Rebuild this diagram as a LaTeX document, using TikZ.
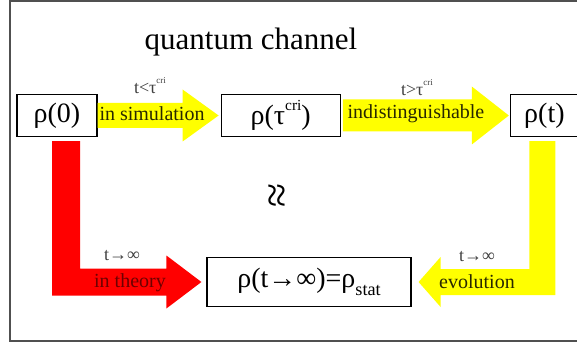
\documentclass[tikz,border=0pt]{standalone}
\usepackage{fontspec}
\setmainfont{Liberation Serif}
\usepackage{graphicx}
\usepackage{tikz}
\usetikzlibrary{positioning,calc}
\usepackage{xcolor}
\definecolor{ArrowYellow}{RGB}{255,255,0}
\definecolor{ArrowRed}{RGB}{255,0,0}
\definecolor{FrameGray}{RGB}{80,80,80}
\definecolor{OliveText}{RGB}{40,40,0}
\definecolor{DarkRedText}{RGB}{110,0,0}
\newcommand{\bigrho}[1]{\scalebox{1.4}{#1}}
\newcommand{\smallsup}[1]{\raisebox{0.55em}{\fontsize{9}{9}\selectfont #1}}

\begin{document}
\begin{tikzpicture}[x=1pt, y=1pt,
    state/.style={rectangle, draw=black, line width=1.2pt, inner sep=0pt,
        minimum height=42pt, font=\fontsize{20}{22}\selectfont},
    cond/.style={inner sep=0pt, font=\fontsize{18}{20}\selectfont, text=black!75},
    tag/.style={inner sep=0pt, font=\fontsize{20}{22}\selectfont},
]
\useasboundingbox (0,0) rectangle (577,348);
\draw[FrameGray, line width=1.5pt] (577,347) -- (10,347) -- (10,7) -- (577,7);
\node[font=\fontsize{20}{22}\selectfont] (title) at (251,306) {\scalebox{1.55}{quantum channel}};

\node[state, minimum width=80pt] (r0) at (57,232.5) {\bigrho{ρ(0)}};
\node[state, minimum width=119pt, right=123pt of r0] (rc) {\bigrho{ρ(τ\raisebox{0.5em}{\fontsize{11}{11}\selectfont cri})}};
\node[state, minimum width=68pt, right=169pt of rc] (rt) {\bigrho{ρ(t)}};
\node[state, minimum width=204pt, minimum height=49pt] (rs) at (309,66) {\bigrho{ρ(t→∞)=ρ\raisebox{-0.3em}{\fontsize{13}{13}\selectfont stat}}};

\fill[ArrowYellow] ($(r0.east)+(0,12.5)$) -- ($(rc.west)+(-38,12.5)$) -- ++(0,13.5)
    -- ($(rc.west)+(-2,0)$) -- ($(rc.west)+(-38,-26)$) -- ++(0,13.5)
    -- ($(r0.east)+(0,-12.5)$) -- cycle;
\fill[ArrowYellow] ($(rc.east)+(2,16)$) -- ($(rt.west)+(-38,16)$) -- ++(0,13)
    -- ($(rt.west)+(-1,0)$) -- ($(rt.west)+(-38,-29)$) -- ++(0,13)
    -- ($(rc.east)+(2,-16)$) -- cycle;
\fill[ArrowRed] ($(r0.south)+(-5,-4)$) -- ++(28,0) |- ($(rs.west)+(-40,13.5)$) -- ++(0,13)
    -- ($(rs.west)+(-5,0)$) -- ($(rs.west)+(-40,-26.5)$) -- ++(0,13)
    -| ($(r0.south)+(-5,-4)$) -- cycle;
\fill[ArrowYellow] ($(rt.south)+(-15,-4)$) -- ++(26,0) |- ($(rs.east)+(29,-13)$) -- ++(0,-12)
    -- ($(rs.east)+(7,0)$) -- ($(rs.east)+(29,25)$) -- ++(0,-12)
    -| ($(rt.south)+(-15,-4)$) -- cycle;

\node[cond] (c1) at (150,262) {t<τ\smallsup{cri}};
\node[tag, text=OliveText] (l1) at (152,234) {in simulation};
\node[cond] (c2) at (417,260) {t>τ\smallsup{cri}};
\node[tag, text=OliveText] (l2) at (416,234) {indistinguishable};
\node[cond] (c3) at (122,92) {t→∞};
\node[tag, text=DarkRedText] (l3) at (130,65) {in theory};
\node[cond] (c4) at (477,91) {t→∞};
\node[tag, text=OliveText] (l4) at (477,66) {evolution};
\node[rotate=90, font=\fontsize{20}{22}\selectfont] (eq) at (280,153) {\scalebox{2.2}{≈}};
\end{tikzpicture}
\end{document}
